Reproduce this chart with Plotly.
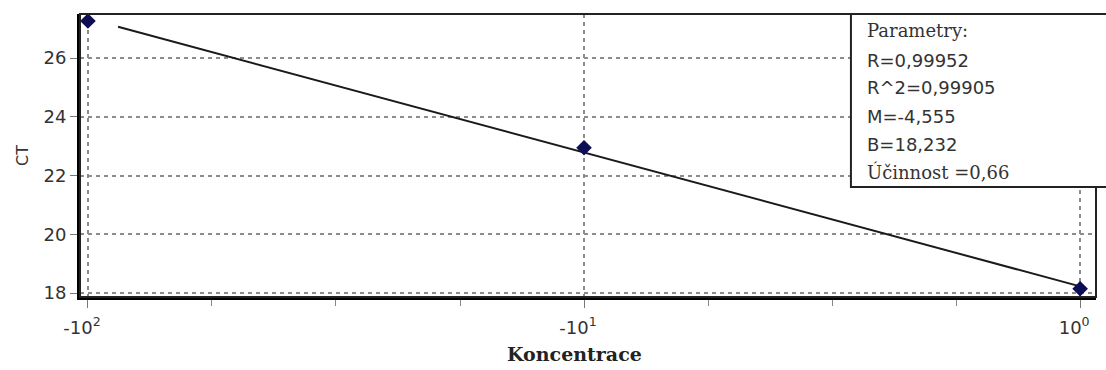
import math
import plotly.graph_objects as go

# Standard-curve data: concentration vs. threshold cycle
koncentrace = [0.01, 0.1, 1.0]
ct_values = [27.26, 22.95, 18.15]

# Regression parameters (CT = M * log10(c) + B)
param_R = 0.99952
param_R2 = 0.99905
param_M = -4.555
param_B = 18.232
param_ucinnost = 0.66

# Extent of the fitted line along the concentration axis
fit_conc = [0.0115, 1.0]

x_tickvals = [0.01, 0.1, 1.0]
x_ticktext = ["-10<sup>2</sup>", "-10<sup>1</sup>", "10<sup>0</sup>"]
y_tickvals = [18, 20, 22, 24, 26]

fit_ct = [param_M * math.log10(c) + param_B for c in fit_conc]
minor_vals = [10 ** (d + q / 4) for d in (-2, -1) for q in (1, 2, 3)]

SANS = "DejaVu Sans"
SERIF = "DejaVu Serif"

fig = go.Figure()

fig.add_trace(go.Scatter(
    x=fit_conc, y=fit_ct, mode="lines",
    line=dict(color="#1a1a1a", width=2),
    showlegend=False, hoverinfo="skip",
))
fig.add_trace(go.Scatter(
    x=koncentrace, y=ct_values, mode="markers",
    marker=dict(symbol="diamond", size=12, color="#0d0d55",
                line=dict(width=0)),
    showlegend=False,
))

fig.update_xaxes(
    type="log", range=[-2.016, 0.032],
    tickmode="array", tickvals=x_tickvals, ticktext=x_ticktext,
    ticklabelshift=-6, ticklabelstandoff=4,
    tickfont=dict(family=SANS, size=18, color="#333333"),
    ticks="outside", ticklen=8, tickcolor="#777777", tickwidth=1,
    showgrid=True, gridcolor="#8c8c8c", gridwidth=1.5, griddash="4px,4px",
    showline=True, linecolor="black", linewidth=3, mirror=False,
    zeroline=False,
    minor=dict(tickmode="array", tickvals=minor_vals, ticks="outside",
               ticklen=6, tickcolor="#888888", showgrid=False),
)
fig.update_yaxes(
    range=[17.87, 27.5],
    tickmode="array", tickvals=y_tickvals,
    tickfont=dict(family=SANS, size=18, color="#333333"),
    ticks="outside", ticklen=7, tickcolor="#777777", tickwidth=1,
    showgrid=True, gridcolor="#8c8c8c", gridwidth=1.5, griddash="4px,4px",
    showline=True, linecolor="black", linewidth=3, mirror=False,
    zeroline=False,
)

shapes = [
    # thin frame on the top and right sides of the plot area
    dict(type="rect", xref="paper", yref="paper", x0=0, x1=1, y0=0, y1=1,
         line=dict(color="#222222", width=2), layer="above"),
    # parameter box
    dict(type="rect", xref="paper", yref="paper", x0=0.7588, x1=1.05,
         y0=0.3887, y1=1.0, fillcolor="white",
         line=dict(color="#222222", width=2), layer="above"),
]


def py(ypix):
    return (297 - ypix) / 283


box_x = (865 - 80) / 1016
lines = [
    ("Parametry:", SERIF, 31),
    (f"R={param_R:.5f}".replace(".", ","), SANS, 61),
    (f"R^2={param_R2:.5f}".replace(".", ","), SANS, 88),
    (f"M={param_M:.3f}".replace(".", ","), SANS, 116),
    (f"B={param_B:.3f}".replace(".", ","), SANS, 144),
    (f"Účinnost ={param_ucinnost:.2f}".replace(".", ","), SERIF, 172),
]
annotations = [
    dict(text=t, xref="paper", yref="paper", x=box_x, y=py(yp),
         xanchor="left", yanchor="middle", showarrow=False,
         font=dict(family=f, size=18, color="#333333"))
    for t, f, yp in lines
]
annotations.append(dict(
    text="<b>Koncentrace</b>", xref="paper", yref="paper",
    x=(574 - 80) / 1016, y=py(354), xanchor="center", yanchor="middle",
    showarrow=False, font=dict(family=SERIF, size=19, color="#222222"),
))
annotations.append(dict(
    text="CT", xref="paper", yref="paper", x=(22 - 80) / 1016, y=py(156),
    xanchor="center", yanchor="middle", textangle=-90, showarrow=False,
    font=dict(family=SANS, size=16, color="#333333"),
))

fig.update_layout(
    width=1106, height=370,
    margin=dict(l=80, r=10, t=14, b=73),
    plot_bgcolor="white", paper_bgcolor="white",
    shapes=shapes, annotations=annotations,
    showlegend=False,
)

fig.write_html("out.html")
